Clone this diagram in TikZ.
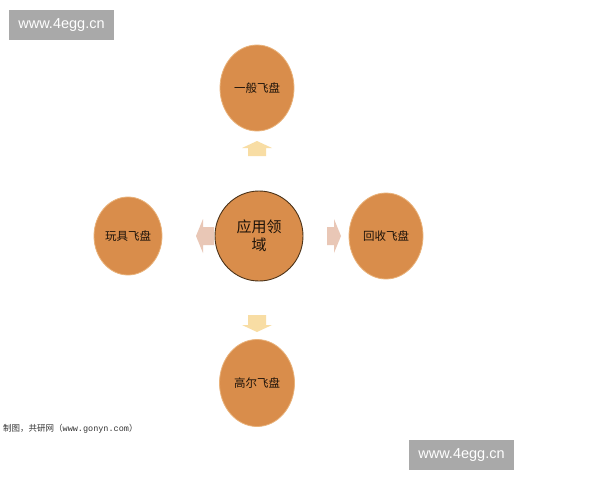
\documentclass[tikz,border=0pt]{standalone}
\usepackage{fontspec}
\setmainfont{Liberation Sans}
\newfontfamily\cjk{Noto Sans CJK SC}
\begin{document}
\begin{tikzpicture}[x=1pt,y=-1pt,
  disc/.style={ellipse,fill=discfill,draw=discedge,line width=0.8pt,inner sep=0pt,font=\cjk\fontsize{11.5}{13}\selectfont,text=black!85!brown},
  wm/.style={fill=wmgray,text=white,inner sep=0pt,font=\fontsize{14.5}{16}\selectfont},
]
\definecolor{discfill}{HTML}{D98D4B}
\definecolor{discedge}{HTML}{E9B27A}
\definecolor{upcol}{HTML}{F8DDA4}
\definecolor{sidecol}{HTML}{E9C7B6}
\definecolor{wmgray}{HTML}{A9A9A9}
\useasboundingbox (0,0) rectangle (600,480);
\fill[white] (0,0) rectangle (600,480);
\usetikzlibrary{shapes.geometric}
% circles
\node[disc,minimum width=74,minimum height=86] (top) at (257,88) {一般飞盘};
\node[disc,minimum width=88,minimum height=90,draw=black!60!brown,line width=0.9pt,font=\cjk\fontsize{15}{18}\selectfont,align=center] (ctr) at (259,236) {应用领\\域};
\node[disc,minimum width=68,minimum height=78] (lft) at (128,236) {玩具飞盘};
\node[disc,minimum width=74,minimum height=86] (rgt) at (386,236) {回收飞盘};
\node[disc,minimum width=75,minimum height=87] (bot) at (257,383) {高尔飞盘};
% block arrows
\fill[upcol] (242,148) -- (257,141) -- (272,148) -- (266,148) -- (266,156) -- (248,156) -- (248,148) -- cycle;
\fill[upcol] (248,315) -- (266,315) -- (266,325) -- (272,325) -- (257,332) -- (242,325) -- (248,325) -- cycle;
\fill[sidecol] (214,227) -- (214,245) -- (203,245) -- (203,253) -- (196,236) -- (203,219) -- (203,227) -- cycle;
\fill[sidecol] (327,227) -- (327,245) -- (334,245) -- (334,253) -- (341,236) -- (334,219) -- (334,227) -- cycle;
% footer
\node[anchor=west,inner sep=0pt,font=\cjk\fontsize{8.5}{10}\selectfont,text=black!80] (src) at (3,429) {制图，共研网（\fontspec{Liberation Mono}www.gonyn.com\cjk）};
% watermarks
\node[wm,minimum width=105,minimum height=30] (wm1) at (61.5,25) {www.4egg.cn};
\node[wm,minimum width=105,minimum height=30] (wm2) at (461.5,455) {www.4egg.cn};
\end{tikzpicture}
\end{document}
